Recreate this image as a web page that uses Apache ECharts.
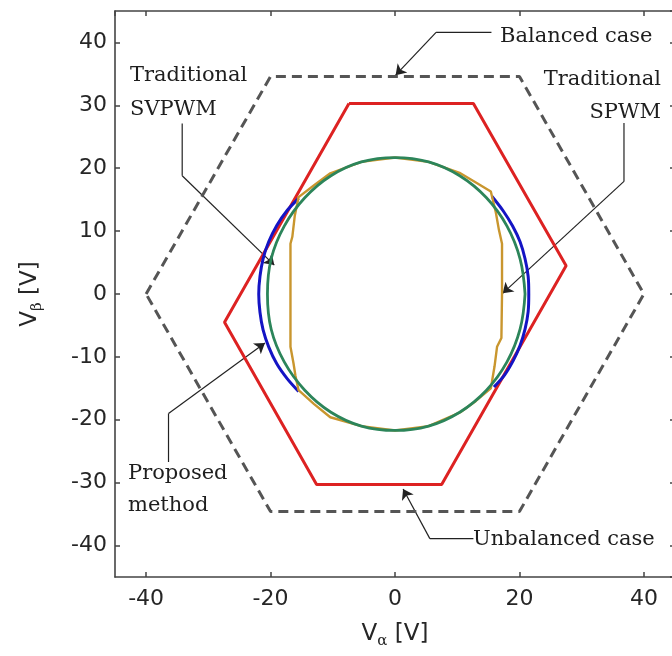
<!DOCTYPE html>
<html>
<head>
<meta charset="utf-8">
<script src="https://cdn.jsdelivr.net/npm/echarts@6/dist/echarts.min.js"></script>
<style>
  html, body { margin: 0; padding: 0; overflow: hidden; background: #fff; }
  #chart { width: 680px; height: 656px; }
</style>
</head>
<body>
<div id="chart"></div>
<script>
// voltage loci in the alpha-beta plane [V]
const balancedHex = [[-40, 0], [-20, 34.6], [20, 34.6], [40, 0], [20, -34.6], [-20, -34.6], [-40, 0]]
const unbalancedHex = [[-7.4, 30.3], [12.6, 30.3], [27.5, 4.5], [7.5, -30.3], [-12.6, -30.3], [-27.4, -4.5], [-7.4, 30.3]]

// proposed method (blue): only the side arcs stand out
const proposed = [
  [-15.5, 15.2], [-17.4, 13.2], [-19.0, 10.9], [-20.3, 8.3], [-21.2, 5.6], [-21.7, 2.8], [-21.9, 0],
  [-21.7, -2.9], [-21.2, -5.7], [-20.3, -8.4], [-19.0, -11.1], [-17.3, -13.5], [-15.5, -15.5],
  null,
  [15.6, 15.5], [17.4, 13.2], [18.9, 10.8], [20.1, 8.3], [20.9, 5.6], [21.4, 2.8], [21.5, 0],
  [21.4, -2.8], [20.9, -5.6], [20.1, -8.2], [19.0, -10.6], [17.6, -12.9], [15.9, -14.8]
]

// traditional SPWM (orange)
const spwm = [
  [0, 21.7], [5.4, 21.0], [10.5, 19.2], [13.2, 17.6], [15.4, 16.3], [16.2, 13.0], [16.7, 10.2], [17.2, 8.0],
  [17.2, 0], [17.1, -7.0], [16.4, -8.4], [16.0, -11.5], [15.4, -15.0], [13.0, -17.0], [10.5, -18.8],
  [5.4, -21.0], [0, -21.7], [-5.4, -21.0], [-10.4, -19.6], [-13.0, -17.5], [-15.5, -15.3], [-16.0, -13.0],
  [-16.3, -11.1], [-16.8, -8.4], [-16.8, 0], [-16.8, 8.0], [-16.5, 9.1], [-16.1, 12.5], [-15.5, 15.4],
  [-13.0, 17.3], [-10.4, 19.2], [-5.4, 21.0], [0, 21.7]
]

// traditional SVPWM (green)
const svpwm = [
  [20.9, 0], [20.1, 5.6], [18.0, 10.8], [14.7, 15.3], [10.4, 18.8], [5.4, 21.0], [0, 21.7],
  [-5.4, 21.0], [-10.3, 18.8], [-14.5, 15.3], [-17.8, 10.8], [-19.9, 5.6], [-20.5, 0],
  [-19.9, -5.6], [-17.8, -10.8], [-14.5, -15.3], [-10.3, -18.8], [-5.4, -21.0], [0, -21.7],
  [5.4, -21.0], [10.4, -18.8], [14.7, -15.3], [18.0, -10.8], [20.1, -5.6], [20.9, 0]
]

const xTitle = '{v|V}{s|α}{v| [V]}'
const yTitle = '{v|V}{s|β}{v| [V]}'

const chart = echarts.init(document.getElementById('chart'))

const axisCommon = {
  type: 'value',
  min: -45,
  max: 45,
  axisLine: { onZero: false, lineStyle: { color: '#444', width: 1.6 } },
  axisTick: { inside: true, length: 5, lineStyle: { color: '#444', width: 1.5 } },
  splitLine: { show: false },
}
const labelStyle = {
  fontFamily: 'DejaVu Sans',
  fontSize: 22,
  color: '#262626',
  showMinLabel: false,
  showMaxLabel: false,
}
const nameRich = {
  v: { fontFamily: 'DejaVu Sans', fontSize: 23, color: '#262626', lineHeight: 30, verticalAlign: 'middle' },
  s: { fontFamily: 'DejaVu Serif', fontSize: 15, color: '#262626', lineHeight: 30, verticalAlign: 'bottom' },
}

const serif = '21px "DejaVu Serif"'
function note(text, x, y, align) {
  return {
    type: 'text',
    x: x,
    y: y,
    style: { text: text, font: serif, fill: '#1e1e1e', align: align || 'left', verticalAlign: 'middle' },
  }
}

chart.setOption({
  animation: false,
  grid: { left: 115, right: 5, top: 11, bottom: 79, containLabel: false },
  xAxis: [
    Object.assign({}, axisCommon, {
      position: 'bottom',
      splitNumber: 4,
      axisLabel: Object.assign({ margin: 11 }, labelStyle),
      name: xTitle,
      nameLocation: 'middle',
      nameGap: 42,
      nameTextStyle: { rich: nameRich, verticalAlign: 'top' },
    }),
    Object.assign({}, axisCommon, { position: 'top', splitNumber: 4, axisLabel: { show: false } }),
  ],
  yAxis: [
    Object.assign({}, axisCommon, {
      position: 'left',
      splitNumber: 9,
      axisLabel: Object.assign({ margin: 8 }, labelStyle),
      name: yTitle,
      nameLocation: 'middle',
      nameRotate: 90,
      nameGap: 70,
      nameTextStyle: { rich: nameRich },
    }),
    Object.assign({}, axisCommon, { position: 'right', splitNumber: 9, axisLabel: { show: false } }),
  ],
  graphic: [
    note('Balanced case', 500, 37),
    note('Traditional', 661, 80, 'right'),
    note('SPWM', 661, 113, 'right'),
    note('Traditional', 130, 76),
    note('SVPWM', 130, 110),
    note('Proposed', 128, 474),
    note('method', 128, 506),
    note('Unbalanced case', 473, 540),
  ],
  series: [
    {
      name: 'Balanced case',
      type: 'line',
      data: balancedHex,
      symbol: 'none',
      lineStyle: { color: '#555', width: 3, type: [10, 6] },
    },
    {
      name: 'Unbalanced case',
      type: 'line',
      data: unbalancedHex,
      symbol: 'none',
      lineStyle: { color: '#dd2222', width: 3 },
    },
    {
      name: 'Proposed method',
      type: 'line',
      data: proposed,
      symbol: 'none',
      smooth: 0.3,
      connectNulls: false,
      lineStyle: { color: '#1414c4', width: 3 },
    },
    {
      name: 'Traditional SPWM',
      type: 'line',
      data: spwm,
      symbol: 'none',
      lineStyle: { color: '#c9962e', width: 2.4 },
    },
    {
      name: 'Traditional SVPWM',
      type: 'line',
      data: svpwm,
      symbol: 'none',
      smooth: 0.4,
      lineStyle: { color: '#2c855a', width: 2.8 },
    },
    {
      // leader lines of the annotations
      type: 'lines',
      coordinateSystem: 'cartesian2d',
      polyline: true,
      symbol: 'none',
      lineStyle: { color: '#222', width: 1.2, opacity: 1 },
      data: [
        { coords: [[15.5, 41.6], [6.6, 41.6]] },
        { coords: [[36.8, 27.2], [36.8, 17.9]] },
        { coords: [[-34.2, 27.1], [-34.2, 18.8]] },
        { coords: [[-36.4, -26.7], [-36.4, -19.0]] },
        { coords: [[12.6, -38.9], [5.6, -38.9]] },
      ],
    },
    {
      type: 'lines',
      coordinateSystem: 'cartesian2d',
      symbol: ['none', 'arrow'],
      symbolSize: 10,
      lineStyle: { color: '#222', width: 1.2, opacity: 1, curveness: 0 },
      data: [
        { coords: [[6.6, 41.6], [0.1, 34.8]] },
        { coords: [[36.8, 17.9], [17.3, 0.1]] },
        { coords: [[-34.2, 18.8], [-19.4, 4.6]] },
        { coords: [[-36.4, -19.0], [-20.9, -7.8]] },
        { coords: [[5.6, -38.9], [1.3, -31.0]] },
      ],
    },
  ],
})
</script>
</body>
</html>
